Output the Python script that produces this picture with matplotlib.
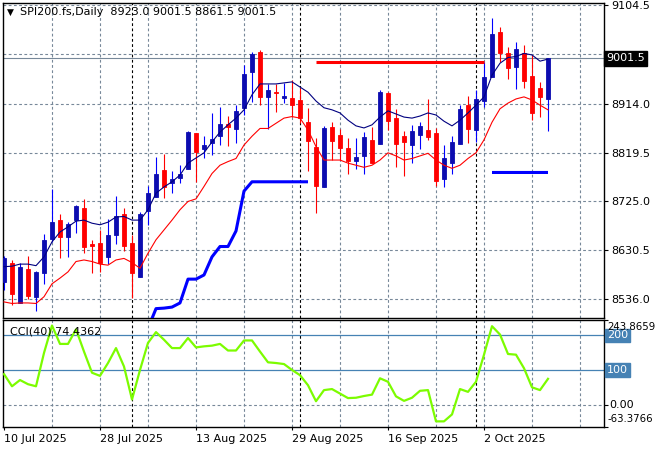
import matplotlib
matplotlib.use("Agg")
import matplotlib.pyplot as plt
from matplotlib.transforms import blended_transform_factory
import numpy as np
import pandas as pd

plt.rcParams['font.family'] = ['DejaVu Sans']
plt.rcParams['font.size'] = 8

# ---------------- data ----------------
symbol = "SPI200.fs,Daily"
dates = pd.bdate_range("2025-07-10", "2025-10-14")

opens = [8569, 8607, 8529, 8594, 8541, 8587, 8652, 8689, 8657, 8690,
         8712, 8642, 8645, 8618, 8660, 8701, 8644, 8580, 8707, 8734,
         8786, 8761, 8770, 8787, 8857, 8826, 8838, 8851, 8875, 8864,
         8905, 8976, 9014, 8926, 8936, 8925, 8924, 8921, 8879, 8830,
         8752, 8868, 8853, 8828, 8804, 8813, 8844, 8836, 8935, 8886,
         8851, 8834, 8853, 8863, 8857, 8768, 8800, 8836, 8911, 8863,
         8920, 8966, 9053, 9012, 8985, 9011, 8967, 8944, 8923.0]
highs = [8620, 8611, 8607, 8620, 8591, 8663, 8750, 8701, 8686, 8718,
         8729, 8650, 8670, 8692, 8735, 8712, 8660, 8705, 8755, 8810,
         8817, 8784, 8795, 8862, 8858, 8851, 8895, 8907, 8890, 8911,
         8989, 9014, 9018, 8952, 8952, 8953, 8960, 8944, 8905, 8847,
         8871, 8879, 8864, 8848, 8847, 8860, 8869, 8940, 8937, 8903,
         8862, 8873, 8879, 8922, 8866, 8834, 8851, 8911, 8929, 8940,
         8995, 9079, 9062, 9023, 9033, 9028, 9008, 8956, 9001.5]
lows = [8554, 8525, 8528, 8536, 8514, 8565, 8647, 8615, 8618, 8665,
        8625, 8586, 8589, 8605, 8643, 8630, 8538, 8580, 8680, 8734,
        8731, 8741, 8760, 8787, 8763, 8808, 8815, 8834, 8832, 8837,
        8892, 8918, 8911, 8864, 8898, 8916, 8889, 8876, 8784, 8703,
        8752, 8805, 8805, 8778, 8787, 8778, 8800, 8836, 8863, 8792,
        8774, 8799, 8826, 8844, 8755, 8752, 8779, 8836, 8837, 8839,
        8908, 8966, 8995, 8962, 8942, 8944, 8882, 8889, 8861.5]
closes = [8616, 8546, 8599, 8542, 8589, 8650, 8685, 8657, 8681, 8716,
          8638, 8639, 8606, 8660, 8696, 8639, 8587, 8701, 8741, 8779,
          8753, 8768, 8779, 8860, 8821, 8834, 8845, 8875, 8869, 8900,
          8972, 9010, 8926, 8940, 8934, 8929, 8911, 8886, 8842, 8755,
          8866, 8842, 8829, 8804, 8810, 8849, 8800, 8936, 8881, 8836,
          8839, 8862, 8871, 8850, 8765, 8808, 8839, 8903, 8864, 8922,
          8966, 9048, 9012, 8983, 9019, 8958, 8896, 8927, 9001.5]

ma_fast = [8599, 8600, 8604, 8604, 8601, 8618, 8647, 8666, 8676, 8687,
           8689, 8683, 8680, 8685, 8695, 8696, 8689, 8689, 8709, 8741,
           8753, 8763, 8776, 8799, 8809, 8819, 8840, 8859, 8873, 8886,
           8902, 8931, 8952, 8952, 8952, 8954, 8956, 8946, 8936, 8919,
           8906, 8902, 8896, 8882, 8871, 8867, 8873, 8888, 8900, 8894,
           8888, 8886, 8890, 8896, 8892, 8880, 8871, 8882, 8896, 8911,
           8927, 8969, 8992, 9003, 9005, 9011, 9008, 8996, 9000]
ma_slow = [8531, 8528, 8529, 8529, 8528, 8541, 8566, 8577, 8589, 8609,
           8612, 8609, 8604, 8602, 8612, 8615, 8607, 8596, 8625, 8651,
           8670, 8689, 8709, 8725, 8730, 8754, 8779, 8795, 8802, 8808,
           8834, 8851, 8866, 8866, 8876, 8886, 8889, 8886, 8863, 8831,
           8805, 8805, 8805, 8799, 8795, 8791, 8795, 8805, 8819, 8813,
           8805, 8808, 8813, 8818, 8805, 8795, 8789, 8795, 8808, 8819,
           8844, 8878, 8904, 8915, 8923, 8927, 8921, 8911, 8902]

nan = np.nan
stop_support = ([nan] * 18 +
                [8480, 8518, 8519, 8521, 8529, 8575, 8575, 8583, 8618, 8638,
                 8638, 8668, 8745, 8763, 8763, 8763, 8763, 8763, 8763, 8763,
                 8763] +
                [nan] * 22 +
                [8781] * 8)
stop_resist = ([nan] * 39 + [8995] * 22 + [nan] * 8)

cci = [88, 53, 71, 59, 53, 149, 228, 175, 175, 217,
       153, 92, 83, 120, 163, 110, 15, 100, 178, 209,
       187, 163, 163, 192, 165, 168, 170, 175, 156, 156,
       185, 185, 153, 122, 120, 117, 100, 85, 56, 10,
       42, 45, 32, 19, 20, 25, 29, 76, 66, 24,
       11, 20, 40, 42, -48, -48, -28, 45, 37, 66,
       144, 226, 202, 146, 144, 105, 50, 42, 74.4362]
cci_period = 40
cci_window_max = 243.8659
cci_window_min = -63.3766

price_ticks = [8536.0, 8630.5, 8725.0, 8819.5, 8914.0, 9104.5]
price_grid = [8536.0, 8630.5, 8725.0, 8819.5, 8914.0, 9009.25, 9104.5]
cci_levels = [100, 200]
date_tick_idx = [0, 12, 24, 36, 48, 60]
date_tick_labels = ["10 Jul 2025", "28 Jul 2025", "13 Aug 2025",
                    "29 Aug 2025", "16 Sep 2025", "2 Oct 2025"]

# ---------------- figure ----------------
W, H = 660, 450
fig = plt.figure(figsize=(W / 100, H / 100), dpi=100)
fig.patch.set_facecolor('white')


def px_axes(l, t, r, b):
    return fig.add_axes([l / W, 1 - b / H, (r - l) / W, (b - t) / H])


ax = px_axes(3, 2.7, 604, 317.7)
ax2 = px_axes(3, 320, 604, 426.7)

n = len(dates)
idx = np.arange(n)
o = np.array(opens, float)
h = np.array(highs, float)
l = np.array(lows, float)
c = np.array(closes, float)

GRID = '#778899'
dash = (0, (2.5, 2.2))

xmin, xmax = -0.125, 75
for a in (ax, ax2):
    a.set_xlim(xmin, xmax)
    a.set_facecolor('white')
    for s in a.spines.values():
        s.set_color('black')
        s.set_linewidth(1)
    for g in range(6, 76, 6):
        a.axvline(g, color=GRID, lw=0.8, ls=dash, zorder=0)
    months = dates.month
    for i in range(1, n):
        if months[i] != months[i - 1]:
            a.axvline(i, color='black', lw=0.8, ls=(0, (2.5, 2.2)), zorder=1)

for g in price_grid:
    ax.axhline(g, color=GRID, lw=0.8, ls=dash, zorder=0)

ax.set_ylim(8500.5, 9108.9)

ax.axhline(c[-1], color=GRID, lw=0.8, zorder=2)

# candles
up = c >= o
body_col = np.where(up, '#0c0cb0', '#ff0000')
wick_col = np.where(up, '#0000ff', '#ff0000')
ax.vlines(idx, l, h, colors=wick_col, lw=0.8, zorder=3)
bottom = np.minimum(o, c)
height = np.maximum(np.abs(c - o), 2.5)
ax.bar(idx, height, bottom=bottom, width=0.52, color=body_col,
       edgecolor=body_col, lw=0.6, zorder=4)

# indicators
ax.plot(idx, ma_fast, color='#000080', lw=0.8, zorder=5)
ax.plot(idx, ma_slow, color='#ff0000', lw=0.8, zorder=5)
ax.plot(idx, stop_support, color='#0000ff', lw=2.2, zorder=5,
        solid_capstyle='butt')
ax.plot(idx, stop_resist, color='#ff0000', lw=2.2, zorder=5,
        solid_capstyle='butt')

ax.yaxis.tick_right()
ax.set_yticks(price_ticks)
ax.set_yticklabels([f"{v:.1f}" for v in price_ticks])
ax.tick_params(axis='y', length=3, width=0.8, pad=2, labelsize=8,
               colors='black')
ax.set_xticks([])
ax.text(1.004, c[-1], f"{c[-1]:.1f}", transform=blended_transform_factory(
    ax.transAxes, ax.transData), ha='left', va='center', color='white',
    fontsize=8, bbox=dict(boxstyle='square,pad=0.2', fc='black', ec='black'),
    zorder=10, clip_on=False)

fig.text(7 / W, 1 - 12 / H, "\u25bc", fontsize=6.5, ha='left', va='center')
fig.text(20 / W, 1 - 12 / H,
         f"{symbol}  {opens[-1]:.1f} {highs[-1]:.1f} {lows[-1]:.1f} {closes[-1]:.1f}",
         fontsize=8, ha='left', va='center')

# ---------------- CCI panel ----------------
cmin, cmax = cci_window_min, cci_window_max
ax2.set_ylim(cmin, cmax)
for lv in cci_levels:
    ax2.axhline(lv, color='#4682b4', lw=0.9, zorder=1)
ax2.axhline(0, color=GRID, lw=0.8, ls=dash, zorder=1)
ax2.plot(idx, cci, color='#7cfc00', lw=1.6, zorder=5)
ax2.yaxis.tick_right()
ax2.set_yticks([cmin, 0, 100, 200, cmax])
ax2.set_yticklabels([])
ax2.tick_params(axis='y', length=3, width=0.8)

bt = blended_transform_factory(ax2.transAxes, ax2.transData)
ba = ax2.transAxes
for lv in cci_levels:
    ax2.text(1.005, lv, f"{lv}", transform=bt, ha='left', va='center',
             fontsize=8, color='white', clip_on=False, zorder=10,
             bbox=dict(boxstyle='square,pad=0.15', fc='#4682b4', ec='#4682b4'))
ax2.text(1.006, 0.934, f"{cmax:.4f}", transform=ba, ha='left', va='center',
         fontsize=7.3, clip_on=False, zorder=11)
ax2.text(1.008, 0, "0.00", transform=bt, ha='left', va='center',
         fontsize=8, clip_on=False)
ax2.text(1.006, 0.072, f"{cmin:.4f}", transform=ba, ha='left', va='center',
         fontsize=7.3, clip_on=False)
ax2.text(7 / 601, 0.89, f"CCI({cci_period}) {cci[-1]:.4f}", transform=ba,
         ha='left', va='center', fontsize=8, zorder=12)

ax2.set_xticks(date_tick_idx)
ax2.set_xticklabels(date_tick_labels, ha='left')
ax2.tick_params(axis='x', length=2.5, width=0.8, pad=2.5, labelsize=8)

fig.savefig("out.png", dpi=100, facecolor='white')
